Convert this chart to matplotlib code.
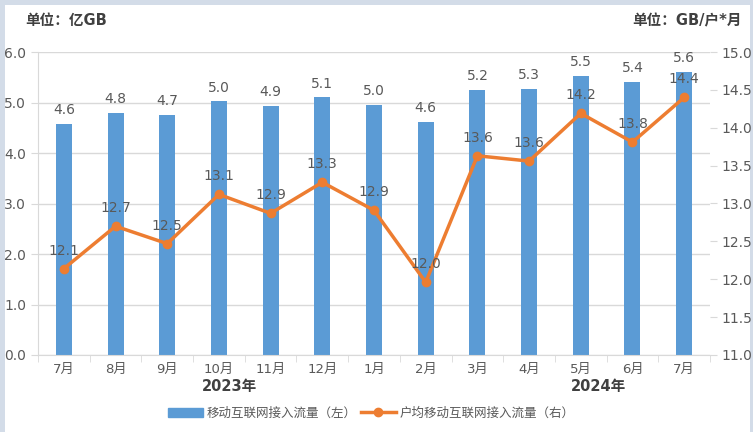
import matplotlib
matplotlib.use('Agg')
import matplotlib.pyplot as plt
from matplotlib.patches import Rectangle
import numpy as np

plt.rcParams['font.family'] = ['DejaVu Sans', 'Noto Sans CJK SC']

# data
months = ['7月', '8月', '9月', '10月', '11月', '12月', '1月', '2月', '3月', '4月', '5月', '6月', '7月']
traffic = [4.57, 4.80, 4.75, 5.02, 4.93, 5.10, 4.96, 4.62, 5.24, 5.27, 5.53, 5.41, 5.61]
traffic_labels = ['4.6', '4.8', '4.7', '5.0', '4.9', '5.1', '5.0', '4.6', '5.2', '5.3', '5.5', '5.4', '5.6']
per_user = [12.14, 12.70, 12.47, 13.12, 12.87, 13.28, 12.91, 11.96, 13.63, 13.56, 14.19, 13.81, 14.40]
per_user_labels = ['12.1', '12.7', '12.5', '13.1', '12.9', '13.3', '12.9', '12.0', '13.6', '13.6', '14.2', '13.8', '14.4']
years = ['2023年', '2024年']

bar_color = '#5b9bd5'
line_color = '#ed7d31'
text_color = '#595959'
grid_color = '#d9d9d9'

fig = plt.figure(figsize=(7.53, 4.32), dpi=100)

# light frame around the white panel
fig.patches.append(Rectangle((0, 0), 1, 1, transform=fig.transFigure, facecolor='#d3dce8', zorder=-10))
fig.patches.append(Rectangle((5 / 753, 0), 745 / 753, 427 / 432, transform=fig.transFigure,
                             facecolor='white', zorder=-9))

ax = fig.add_axes([38 / 753, 1 - 355 / 432, 672 / 753, 303 / 432])
ax.set_facecolor('none')
x = np.arange(len(months))

ax.bar(x, traffic, width=0.31, color=bar_color, zorder=2)
for xi, v, lab in zip(x, traffic, traffic_labels):
    ax.annotate(lab, (xi, v), xytext=(0, 5), textcoords='offset points',
                ha='center', va='bottom', fontsize=10, color=text_color)

ax.set_xlim(-0.5, len(months) - 0.5)
ax.set_ylim(0, 6)
ax.set_yticks(np.arange(0, 6.1, 1.0))
ax.set_yticklabels([f'{v:.1f}' for v in np.arange(0, 6.1, 1.0)])
ax.grid(axis='y', color=grid_color, linewidth=1, zorder=0)
ax.set_axisbelow(True)

ax.set_xticks(x)
ax.set_xticklabels(months)
ax.set_xticks(np.arange(-0.5, len(months), 1.0), minor=True)
ax.tick_params(axis='x', which='major', length=0, pad=6, labelsize=9.5, labelcolor=text_color)
ax.tick_params(axis='x', which='minor', length=5, color=grid_color)
ax.tick_params(axis='y', length=5, color=grid_color, labelsize=10, labelcolor=text_color)

for s in ['top', 'right']:
    ax.spines[s].set_visible(False)
ax.spines['left'].set_color(grid_color)
ax.spines['bottom'].set_color(grid_color)

ax2 = ax.twinx()
ax2.plot(x, per_user, color=line_color, linewidth=2.5, marker='o', markersize=6, zorder=3)
for xi, v, lab in zip(x, per_user, per_user_labels):
    ax2.annotate(lab, (xi, v), xytext=(0, 8), textcoords='offset points',
                 ha='center', va='bottom', fontsize=10, color=text_color)
ax2.set_ylim(11, 15)
ax2.set_yticks(np.arange(11, 15.01, 0.5))
ax2.set_yticklabels([f'{v:.1f}' for v in np.arange(11, 15.01, 0.5)])
ax2.tick_params(axis='y', length=5, color=grid_color, labelsize=10, labelcolor=text_color)
for s in ['top', 'right', 'left', 'bottom']:
    ax2.spines[s].set_visible(False)

# year labels under month labels
ax.text(3.2, -0.105, years[0], transform=ax.get_xaxis_transform(), ha='center', va='center',
        fontsize=10.5, fontweight='bold', color='#404040')
ax.text(10.35, -0.105, years[1], transform=ax.get_xaxis_transform(), ha='center', va='center',
        fontsize=10.5, fontweight='bold', color='#404040')

# unit labels
fig.text(25 / 753, 1 - 21 / 432, '单位：亿GB', ha='left', va='center', fontsize=10.5,
         fontweight='bold', color='#404040')
fig.text(742 / 753, 1 - 21 / 432, '单位：GB/户*月', ha='right', va='center', fontsize=10.5,
         fontweight='bold', color='#404040')

# legend
h1 = plt.Rectangle((0, 0), 1, 1, color=bar_color)
h2, = ax2.plot([], [], color=line_color, linewidth=2.5, marker='o', markersize=6)
fig.legend([h1, h2], ['移动互联网接入流量（左）', '户均移动互联网接入流量（右）'],
           loc='center', bbox_to_anchor=(0.493, 1 - 413 / 432), ncol=2, frameon=False,
           fontsize=9, labelcolor=text_color, handlelength=2.8, columnspacing=0.3,
           handletextpad=0.3)

fig.savefig('out.png', dpi=100)
